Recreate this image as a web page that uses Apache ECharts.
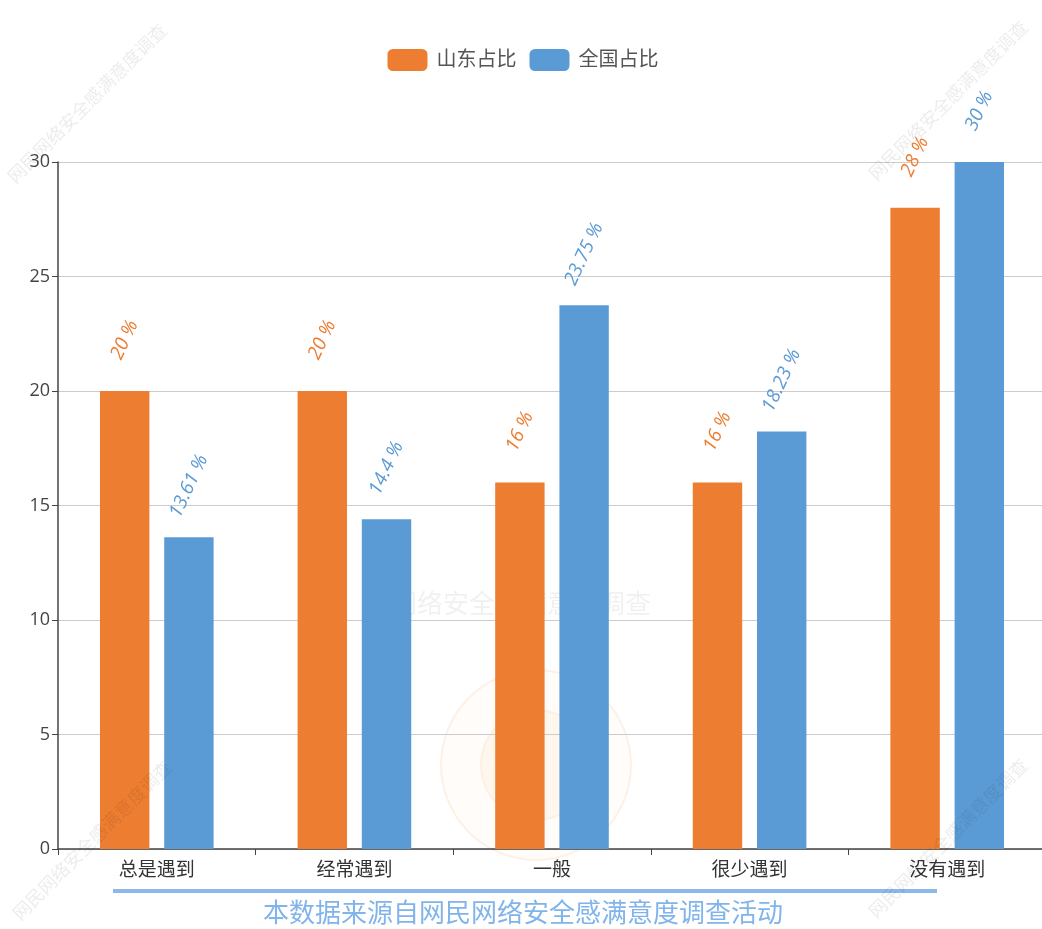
<!DOCTYPE html>
<html>
<head>
<meta charset="utf-8">
<script src="https://cdn.jsdelivr.net/npm/echarts@6/dist/echarts.min.js"></script>
<style>
html,body{margin:0;padding:0;background:#fff;overflow:hidden;}
#main{width:1046px;height:929px;}
</style>
</head>
<body>
<div id="main"></div>
<script>
var categories = ['总是遇到', '经常遇到', '一般', '很少遇到', '没有遇到'];
var shandong = [20, 20, 16, 16, 28];
var national = [13.61, 14.4, 23.75, 18.23, 30];
var seriesNames = ['山东占比', '全国占比'];
var footnote = '本数据来源自网民网络安全感满意度调查活动';
var watermark = '网民网络安全感满意度调查';
var centerMark = '网络安全感满意度调查';

var FONT = '"Open Sans", "Noto Sans CJK SC", sans-serif';
var chart = echarts.init(document.getElementById('main'));

function labelCfg(color) {
  return {
    show: true,
    position: 'top',
    distance: 51,
    rotate: 65,
    align: 'center',
    verticalAlign: 'middle',
    color: color,
    fontSize: 19,
    fontStyle: 'italic',
    fontFamily: FONT,
    formatter: '{c} %'
  };
}

var wmStyle = { fill: 'rgba(0,0,0,0.08)', font: '18px "Noto Sans CJK SC"', text: watermark, align: 'center', verticalAlign: 'middle' };

chart.setOption({
  animation: false,
  backgroundColor: '#fff',
  textStyle: { fontFamily: FONT },
  legend: {
    top: 44,
    left: 'center',
    itemWidth: 40,
    itemHeight: 22,
    itemGap: 13,
    textStyle: { fontSize: 20, color: '#555', fontFamily: FONT, padding: [0, 0, 0, 4] },
    data: seriesNames
  },
  title: {
    text: footnote,
    left: 'center',
    top: 897,
    textStyle: { fontSize: 26, fontWeight: 'normal', color: '#80b4ea', fontFamily: FONT }
  },
  grid: { left: 58, top: 162, right: 0, height: 687, containLabel: false },
  xAxis: {
    type: 'category',
    data: categories,
    axisLine: { lineStyle: { color: '#444', width: 1.5 } },
    axisTick: { show: true, length: 6, lineStyle: { color: '#444' } },
    axisLabel: { fontSize: 19, color: '#333', margin: 12, fontFamily: FONT }
  },
  yAxis: {
    type: 'value',
    min: 0,
    max: 30,
    interval: 5,
    axisLine: { show: true, lineStyle: { color: '#444', width: 1.5 } },
    axisTick: { show: true, length: 6, lineStyle: { color: '#444' } },
    axisLabel: { fontSize: 18, color: '#444', margin: 8, fontFamily: FONT },
    splitLine: { lineStyle: { color: '#ccc' } }
  },
  graphic: [
    { type: 'circle', z: -10, shape: { cx: 536, cy: 765, r: 95 }, style: { fill: 'rgba(250,200,140,0.05)', stroke: 'rgba(240,170,100,0.15)', lineWidth: 2 } },
    { type: 'circle', z: -10, shape: { cx: 536, cy: 765, r: 55 }, style: { fill: 'rgba(250,190,120,0.08)', stroke: 'rgba(240,170,100,0.12)', lineWidth: 2 } },
    { type: 'text', z: -10, x: 521, y: 603, style: { text: centerMark, fill: 'rgba(0,0,0,0.06)', font: '26px "Noto Sans CJK SC"', align: 'center', verticalAlign: 'middle' } },
    { type: 'text', z: 100, x: 87, y: 103, rotation: Math.PI / 4, style: wmStyle },
    { type: 'text', z: 100, x: 948, y: 100, rotation: Math.PI / 4, style: wmStyle },
    { type: 'text', z: 100, x: 92, y: 840, rotation: Math.PI / 4, style: wmStyle },
    { type: 'text', z: 100, x: 948, y: 838, rotation: Math.PI / 4, style: wmStyle },
    { type: 'rect', z: 5, shape: { x: 113, y: 889, width: 824, height: 4 }, style: { fill: '#8db8e8' } }
  ],
  series: [
    {
      name: seriesNames[0],
      type: 'bar',
      data: shandong,
      barWidth: '25%',
      barGap: '30%',
      itemStyle: { color: '#ed7d31' },
      label: labelCfg('#ed7d31')
    },
    {
      name: seriesNames[1],
      type: 'bar',
      data: national,
      barWidth: '25%',
      barGap: '30%',
      itemStyle: { color: '#5b9bd5' },
      label: labelCfg('#5b9bd5')
    }
  ]
});
</script>
</body>
</html>
